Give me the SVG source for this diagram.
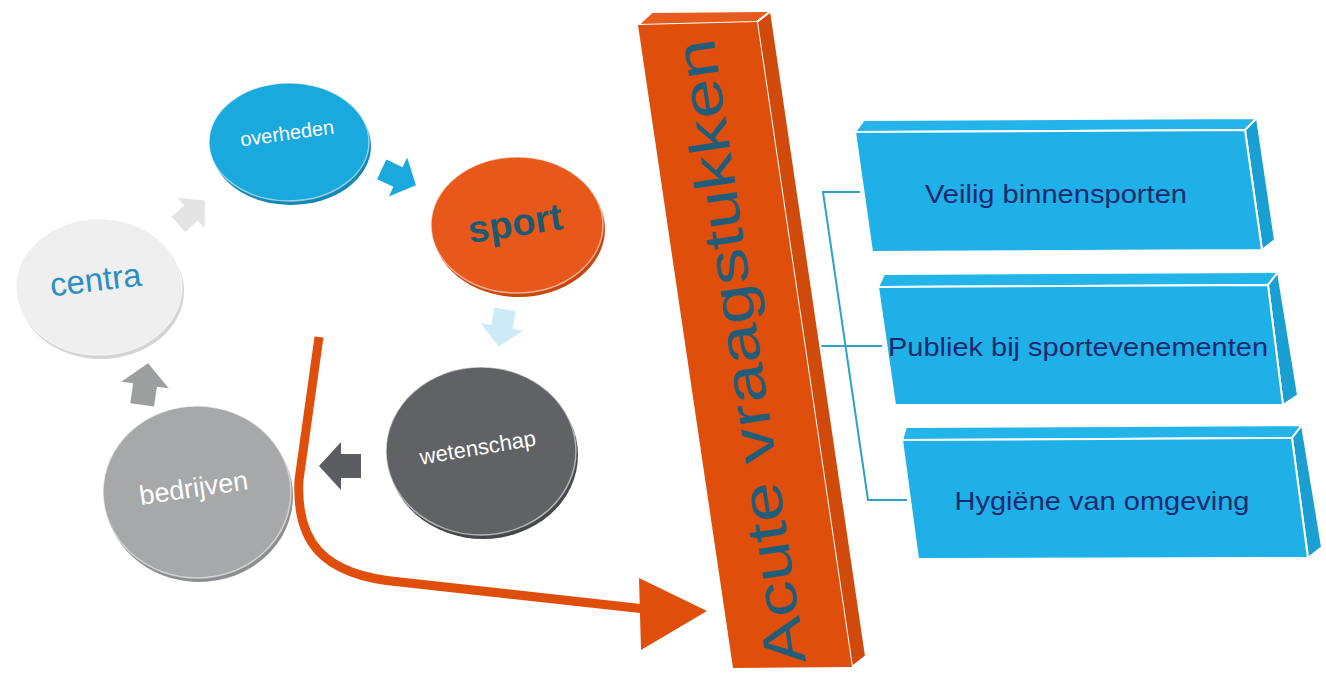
<svg xmlns="http://www.w3.org/2000/svg" xmlns:xlink="http://www.w3.org/1999/xlink" width="1326" height="677" viewBox="0 0 1326 677">
<style>
.lbl{font-family:"Liberation Sans",Arial,sans-serif;text-anchor:middle;}
.box{font-family:"Liberation Sans",Arial,sans-serif;font-size:25px;fill:#1b2a6e;text-anchor:middle;}
.edge{stroke:#ffffff;stroke-width:2;stroke-linejoin:round;}
.face{stroke:#ffffff;stroke-opacity:0.55;stroke-width:1.5;}
.conn{fill:none;stroke:#2aa3c5;stroke-width:2;}
</style>
<defs>
<path id="blk" d="M-20,-12 H0 V-24 L22,0 L0,24 V12 H-20 Z"/>
</defs>
<rect width="1326" height="677" fill="#ffffff"/>

<g id="connectors">
<use xlink:href="#blk" transform="translate(191,213) rotate(-42) scale(0.85)" fill="#e4e4e4"/>
<use xlink:href="#blk" transform="translate(398,177) rotate(25) scale(0.9)" fill="#1aa9dc"/>
<use xlink:href="#blk" transform="translate(502,327) rotate(100) scale(0.9)" fill="#cdeaf7"/>
<use xlink:href="#blk" transform="translate(341,466) rotate(180)" fill="#5b5d60"/>
<use xlink:href="#blk" transform="translate(145,385) rotate(-82)" fill="#9c9ea0"/>
<path d="M319,337 L299,480 C296,540 320,575 400,582 L645,609" fill="none" stroke="#e04e0c" stroke-width="9"/>
<polygon points="639,578 707,611 641,650" fill="#e04e0c"/>
<path class="conn" d="M860,192 H823 L868,500 H907"/>
<path class="conn" d="M807,346 H882"/>
</g>

<g id="node-overheden">
<ellipse cx="291" cy="146" rx="80" ry="59" fill="#1487b4"/>
<ellipse cx="289" cy="142" rx="80" ry="59" fill="#1aa9dc" class="face"/>
<text class="lbl" x="288" y="140" font-size="20" fill="#ffffff" transform="rotate(-8 288 140)">overheden</text>
</g>

<g id="node-sport">
<ellipse cx="519" cy="229" rx="86" ry="68" fill="#c9470f"/>
<ellipse cx="517" cy="225" rx="86" ry="68" fill="#e8581a" class="face"/>
<text class="lbl" x="517" y="236" font-size="38" font-weight="bold" fill="#1c5a70" transform="rotate(-8.6 517 236)">sport</text>
</g>

<g id="node-wetenschap">
<ellipse cx="483" cy="455" rx="95" ry="84" fill="#46484b"/>
<ellipse cx="481" cy="451" rx="95" ry="84" fill="#606265" class="face"/>
<text class="lbl" x="479" y="455" font-size="22" fill="#ffffff" transform="rotate(-9.5 479 455)">wetenschap</text>
</g>

<g id="node-bedrijven">
<ellipse cx="199" cy="496" rx="94" ry="86" fill="#8c8e91"/>
<ellipse cx="197" cy="492" rx="94" ry="86" fill="#a6a8aa" class="face"/>
<text class="lbl" x="195" y="497" font-size="27" fill="#ffffff" transform="rotate(-8.4 195 497)">bedrijven</text>
</g>

<g id="node-centra">
<ellipse cx="101" cy="291" rx="83" ry="68" fill="#d4d4d4"/>
<ellipse cx="99" cy="287" rx="83" ry="68" fill="#efefef" class="face"/>
<text class="lbl" x="97" y="291" font-size="33" fill="#2a8fc0" transform="rotate(-7 97 291)">centra</text>
</g>

<g id="node-acute">
<polygon points="638,25 652,12 771,11 757,22" fill="#e65c1c" class="edge"/>
<polygon points="757,22 771,11 866,656 852,667" fill="#cf4a0b" class="edge"/>
<polygon points="638,25 757,22 852,667 733,668" fill="#e04e0c"/>
<text class="lbl" transform="translate(806,662) rotate(-98.4)" font-size="57" fill="#1f5d78" style="text-anchor:start" textLength="632" lengthAdjust="spacingAndGlyphs">Acute vraagstukken</text>
</g>

<g id="node-veilig">
<polygon points="855,132 864,120 1257,118 1245,130" fill="#23b4e9" class="edge"/>
<polygon points="1245,130 1257,118 1275,240 1262,250" fill="#1a9fd3" class="edge"/>
<polygon points="855,132 1245,130 1262,250 872,252" fill="#1eb0e6" class="edge"/>
<text class="box" x="1056" y="203" textLength="262" lengthAdjust="spacingAndGlyphs">Veilig binnensporten</text>
</g>

<g id="node-publiek">
<polygon points="878,287 884,274 1278,272 1268,285" fill="#23b4e9" class="edge"/>
<polygon points="1268,285 1278,272 1298,395 1283,405" fill="#1a9fd3" class="edge"/>
<polygon points="878,287 1268,285 1283,405 895,405" fill="#1eb0e6" class="edge"/>
<text class="box" x="1078" y="356" textLength="380" lengthAdjust="spacingAndGlyphs">Publiek bij sportevenementen</text>
</g>

<g id="node-hygiene">
<polygon points="902,440 906,427 1302,425 1292,438" fill="#23b4e9" class="edge"/>
<polygon points="1292,438 1302,425 1322,547 1308,558" fill="#1a9fd3" class="edge"/>
<polygon points="902,440 1292,438 1308,558 918,559" fill="#1eb0e6" class="edge"/>
<text class="box" x="1102" y="510" textLength="295" lengthAdjust="spacingAndGlyphs">Hygiëne van omgeving</text>
</g>
</svg>
